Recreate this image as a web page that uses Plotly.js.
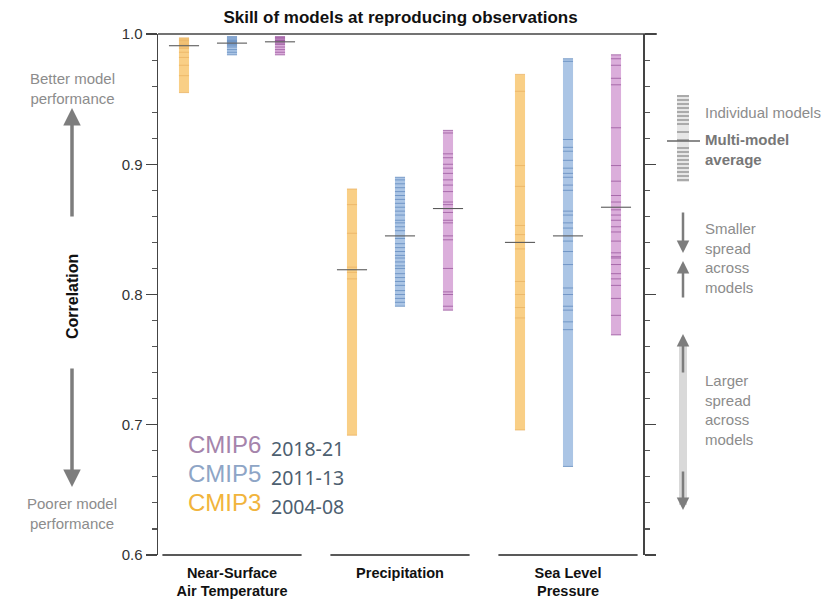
<!DOCTYPE html>
<html>
<head>
<meta charset="utf-8">
<script src="https://cdn.plot.ly/plotly-3.0.1.min.js"></script>
<style>html,body{margin:0;padding:0;background:#fff;}#chart{width:823px;height:601px;}</style>
</head>
<body>
<div id="chart"></div>
<script>
// ---------------- DATA ----------------
const groupLabels = ['<b>Near-Surface</b><br><b>Air Temperature</b>', '<b>Precipitation</b>', '<b>Sea Level</b><br><b>Pressure</b>'];
const generations = ['CMIP3', 'CMIP5', 'CMIP6'];
const generationYears = ['2004-08', '2011-13', '2018-21'];

// Individual model correlations
const tas_cmip3 = [0.997, 0.996, 0.995, 0.994, 0.993, 0.992, 0.990, 0.989, 0.986, 0.982, 0.976, 0.968, 0.955];
const tas_cmip5 = [0.998, 0.997, 0.996, 0.995, 0.994, 0.994, 0.993, 0.992, 0.991, 0.990, 0.988, 0.986, 0.984];
const tas_cmip6 = [0.998, 0.997, 0.997, 0.996, 0.995, 0.995, 0.994, 0.993, 0.992, 0.990, 0.988, 0.986, 0.984];

const pr_cmip3 = [0.881, 0.869, 0.847, 0.821, 0.817, 0.812, 0.692];
const pr_cmip5 = [0.890, 0.888, 0.885, 0.882, 0.879, 0.876, 0.873, 0.870, 0.867, 0.864, 0.861, 0.857, 0.855, 0.852, 0.849,
                  0.843, 0.839, 0.836, 0.833, 0.830, 0.828, 0.825, 0.822, 0.820, 0.816, 0.813, 0.810, 0.807, 0.803, 0.800,
                  0.797, 0.794, 0.791];
const pr_cmip6 = [0.926, 0.924, 0.908, 0.905, 0.900, 0.897, 0.893, 0.888, 0.884, 0.879, 0.871, 0.869, 0.866, 0.863, 0.857,
                  0.855, 0.845, 0.842, 0.820, 0.802, 0.800, 0.791, 0.788];

const psl_cmip3 = [0.969, 0.956, 0.899, 0.883, 0.853, 0.846, 0.835, 0.810, 0.800, 0.790, 0.782, 0.696];
const psl_cmip5 = [0.981, 0.979, 0.919, 0.913, 0.910, 0.903, 0.897, 0.893, 0.890, 0.884, 0.880, 0.864, 0.861, 0.855, 0.851,
                   0.841, 0.833, 0.823, 0.805, 0.800, 0.791, 0.788, 0.779, 0.773, 0.668];
const psl_cmip6 = [0.984, 0.981, 0.976, 0.966, 0.961, 0.928, 0.899, 0.887, 0.876, 0.871, 0.865, 0.861, 0.857, 0.852, 0.848,
                   0.841, 0.832, 0.829, 0.828, 0.823, 0.816, 0.812, 0.807, 0.797, 0.784, 0.769];

// Multi-model averages per variable [tas, pr, psl]
const cmip3_means = [0.991, 0.819, 0.840];
const cmip5_means = [0.993, 0.845, 0.845];
const cmip6_means = [0.994, 0.866, 0.867];

// ---------------- STYLE ----------------
const bandColors = ['#f9cf86', '#abc5e5', '#dbaedb'];
const stripeColors = ['#eab262', '#5f88bd', '#97549b'];
const labelColors = ['#f1b43c', '#8ea5c6', '#a584ab'];

const perGen = [
  [tas_cmip3, pr_cmip3, psl_cmip3],
  [tas_cmip5, pr_cmip5, psl_cmip5],
  [tas_cmip6, pr_cmip6, psl_cmip6]
];
const meansPerGen = [cmip3_means, cmip5_means, cmip6_means];

const groupStep = 3.5, memberStep = 1;
function xpos(g, k) { return g * groupStep + k * memberStep; }
const groupCenters = groupLabels.map((_, g) => xpos(g, 1));

const traces = [];
// bands
generations.forEach((gen, k) => {
  const xs = [], bases = [], heights = [];
  perGen[k].forEach((vals, g) => {
    const mn = Math.min(...vals), mx = Math.max(...vals);
    xs.push(xpos(g, k)); bases.push(mn); heights.push(mx - mn);
  });
  traces.push({type: 'bar', x: xs, y: heights, base: bases, width: 0.21,
    marker: {color: bandColors[k], line: {width: 0}}, showlegend: false, hoverinfo: 'skip'});
});
// stripes
generations.forEach((gen, k) => {
  const xs = [], ys = [];
  perGen[k].forEach((vals, g) => { vals.forEach(v => { xs.push(xpos(g, k)); ys.push(v); }); });
  traces.push({type: 'scatter', mode: 'markers', x: xs, y: ys,
    marker: {symbol: 'line-ew', size: 7.2, color: stripeColors[k], line: {width: 1, color: stripeColors[k]}, opacity: 0.75},
    showlegend: false, hoverinfo: 'skip', cliponaxis: false});
});
// means
generations.forEach((gen, k) => {
  traces.push({type: 'scatter', mode: 'markers', x: groupLabels.map((_, g) => xpos(g, k)), y: meansPerGen[k],
    marker: {symbol: 'line-ew', size: 21.5, color: '#555', line: {width: 1.1, color: '#5a5a5a'}},
    showlegend: false, hoverinfo: 'skip', cliponaxis: false});
});

// ---------------- LAYOUT HELPERS ----------------
const L = 158, R = 643, T = 34, B = 555;
const px = x => (x - L) / (R - L);
const py = y => (B - y) / (B - T);

const shapes = [];
// top line
shapes.push({type: 'line', xref: 'paper', yref: 'paper', x0: 0, x1: px(657), y0: 1, y1: 1, line: {color: '#444', width: 1.6}});
// category underlines
groupCenters.forEach(c => {
  shapes.push({type: 'line', xref: 'x', yref: 'paper', x0: c - 1.45, x1: c + 1.45, y0: 0, y1: 0, line: {color: '#222', width: 1.5}});
});
// right legend icon: light band + stripes
shapes.push({type: 'rect', xref: 'paper', yref: 'paper', x0: px(677), x1: px(689), y0: py(182), y1: py(95), fillcolor: '#e6e6e6', line: {width: 0}});
for (let yy = 96; yy <= 182; yy += 4) {
  if (yy > 124 && yy < 150 && (yy % 8 === 0)) continue;
  shapes.push({type: 'line', xref: 'paper', yref: 'paper', x0: px(677), x1: px(689), y0: py(yy), y1: py(yy), line: {color: '#6e6e6e', width: 1}});
}
shapes.push({type: 'line', xref: 'paper', yref: 'paper', x0: px(667), x1: px(700), y0: py(141), y1: py(141), line: {color: '#666', width: 1.3}});
// larger-spread gray bar
shapes.push({type: 'rect', xref: 'paper', yref: 'paper', x0: px(679), x1: px(687), y0: py(505), y1: py(342), fillcolor: '#d9d9d9', line: {width: 0}});

const gray = '#8c8c8c';
const annotations = [];
function txt(text, x, y, opts) {
  annotations.push(Object.assign({xref: 'paper', yref: 'paper', x: px(x), y: py(y), text: text, showarrow: false,
    font: {family: 'Liberation Sans, Arial, sans-serif', size: 15, color: gray}}, opts || {}));
}
function arrow(xh, yh, ay, color, w) {
  annotations.push({xref: 'paper', yref: 'paper', x: px(xh), y: py(yh), ax: 0, ay: ay, text: '', showarrow: true,
    arrowhead: 2, arrowsize: 1, arrowwidth: w || 3.5, arrowcolor: color || '#7d7d7d'});
}
// left annotations
txt('Better model<br>performance', 72, 88, {xanchor: 'center', yanchor: 'middle'});
txt('Poorer model<br>performance', 72, 513, {xanchor: 'center', yanchor: 'middle'});
txt('<b>Correlation</b>', 72, 297, {xanchor: 'center', yanchor: 'middle', textangle: -90,
  font: {family: 'Liberation Sans, Arial, sans-serif', size: 16, color: '#111'}});
arrow(72, 108, 110);
arrow(72, 487, -120);
// right legend
txt('Individual models', 703, 112, {xanchor: 'left', yanchor: 'middle', align: 'left'});
txt('<b>Multi-model</b><br><b>average</b>', 703, 149, {xanchor: 'left', yanchor: 'middle', align: 'left', font: {family: 'Liberation Sans, Arial, sans-serif', size: 15, color: '#777'}});
txt('Smaller<br>spread<br>across<br>models', 703, 258, {xanchor: 'left', yanchor: 'middle', align: 'left'});
txt('Larger<br>spread<br>across<br>models', 703, 410, {xanchor: 'left', yanchor: 'middle', align: 'left'});
arrow(683, 253, -42, '#7d7d7d', 2.5);
arrow(683, 261, 38, '#7d7d7d', 2.5);
arrow(683, 334, 40, '#7d7d7d', 2.5);
arrow(683, 510, -40, '#7d7d7d', 2.5);
// generation legend
const legendY = [502, 473, 444];
generations.forEach((gen, k) => {
  txt(gen, 186, legendY[k], {xanchor: 'left', yanchor: 'middle', font: {family: 'Liberation Sans, Arial, sans-serif', size: 24, color: labelColors[k]}});
  txt(generationYears[k], 269, legendY[k] + 4, {xanchor: 'left', yanchor: 'middle', font: {family: 'Noto Sans, sans-serif', size: 19.5, color: '#4d6070'}});
});

const layout = {
  width: 823, height: 601,
  margin: {l: L, r: 823 - R, t: T, b: 601 - B, pad: 0},
  paper_bgcolor: '#fff', plot_bgcolor: '#fff',
  title: {text: '<b>Skill of models at reproducing observations</b>', x: 0.5, xref: 'paper', y: 0.972, yanchor: 'middle',
    font: {family: 'Liberation Sans, Arial, sans-serif', size: 17, color: '#111'}},
  showlegend: false,
  barmode: 'overlay',
  xaxis: {range: [(L - 184) / 48, (R - 184) / 48], showgrid: false, zeroline: false, showline: false,
    tickmode: 'array', tickvals: groupCenters, ticktext: groupLabels, ticks: '', ticklabelstandoff: 7,
    tickfont: {family: 'Liberation Sans, Arial, sans-serif', size: 14.5, color: '#111'}, fixedrange: true},
  yaxis: {range: [0.6, 1.0], showgrid: false, zeroline: false, showline: true, linecolor: '#444', linewidth: 1.5,
    mirror: 'ticks', ticks: 'outside', ticklen: 11, tickwidth: 1.3, tickcolor: '#444', dtick: 0.1, tickformat: '.1f',
    tickfont: {family: 'Liberation Sans, Arial, sans-serif', size: 15, color: '#333'},
    minor: {dtick: 0.02, ticks: 'outside', ticklen: 5, tickwidth: 1.1, tickcolor: '#555', showgrid: false}, fixedrange: true},
  shapes: shapes,
  annotations: annotations
};

Plotly.newPlot('chart', traces, layout, {staticPlot: true, displayModeBar: false});
</script>
</body>
</html>
